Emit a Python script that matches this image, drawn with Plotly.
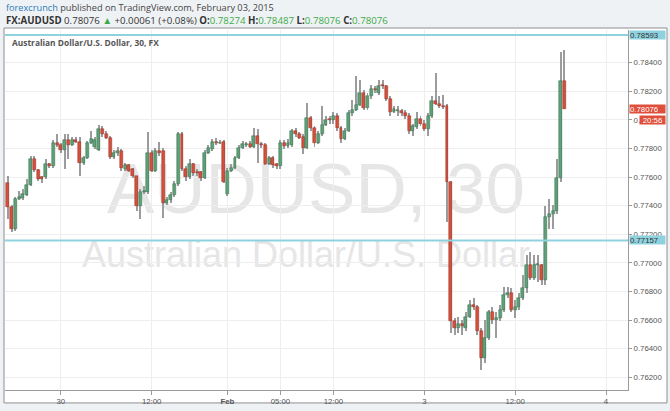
import numpy as np
import plotly.graph_objects as go

# ---------------- data (30-minute bars, AUD/USD) ----------------
bar_index = list(range(148))

open_ = [0.77557, 0.77388, 0.77238, 0.77446, 0.77451, 0.77474, 0.77543, 0.77729, 0.77648, 0.77597,
         0.77597, 0.77689, 0.77677, 0.77840, 0.77821, 0.77789, 0.77858, 0.77823, 0.77858, 0.77844,
         0.77701, 0.77736, 0.77835, 0.77807, 0.77789, 0.77933, 0.77898, 0.77875, 0.77743, 0.77766,
         0.77782, 0.77655, 0.77682, 0.77655, 0.77604, 0.77395, 0.77497, 0.77497, 0.77766, 0.77643,
         0.77782, 0.77782, 0.77418, 0.77441, 0.77474, 0.77550, 0.77898, 0.77659, 0.77597, 0.77689,
         0.77632, 0.77632, 0.77592, 0.77771, 0.77794, 0.77844, 0.77835, 0.77844, 0.77481, 0.77643,
         0.77666, 0.77736, 0.77800, 0.77821, 0.77828, 0.77812, 0.77886, 0.77828, 0.77821, 0.77694,
         0.77736, 0.77689, 0.77675, 0.77840, 0.77816, 0.77823, 0.77921, 0.77898, 0.77882, 0.77805,
         0.78014, 0.77944, 0.77840, 0.77898, 0.77967, 0.78007, 0.77997, 0.78025, 0.77944, 0.77868,
         0.77921, 0.78044, 0.78067, 0.78106, 0.78188, 0.78083, 0.78169, 0.78215, 0.78188, 0.78243,
         0.78238, 0.78146, 0.78053, 0.78058, 0.78060, 0.78044, 0.78030, 0.77921, 0.77951, 0.78007,
         0.77974, 0.77933, 0.78025, 0.78129, 0.78113, 0.78099, 0.78099, 0.77566, 0.76593, 0.76547,
         0.76570, 0.76547, 0.76624, 0.76709, 0.76693, 0.76524, 0.76334, 0.76473, 0.76654, 0.76600,
         0.76612, 0.76670, 0.76774, 0.76793, 0.76670, 0.76693, 0.76756, 0.76821, 0.76982, 0.76895,
         0.76987, 0.76987, 0.76878, 0.77319, 0.77342, 0.77365, 0.77590, 0.78274]

high = [0.77608, 0.77404, 0.77460, 0.77504, 0.77516, 0.77585, 0.77747, 0.77747, 0.77659, 0.77608,
        0.77724, 0.77701, 0.77856, 0.77898, 0.77835, 0.77898, 0.77898, 0.77877, 0.77882, 0.77877,
        0.77747, 0.77851, 0.77921, 0.77877, 0.77967, 0.77955, 0.77921, 0.77886, 0.77789, 0.77807,
        0.77794, 0.77701, 0.77694, 0.77666, 0.77608, 0.77516, 0.77538, 0.77917, 0.77789, 0.77805,
        0.77847, 0.77805, 0.77458, 0.77497, 0.77571, 0.77917, 0.77917, 0.77677, 0.77724, 0.77701,
        0.77655, 0.77643, 0.77789, 0.77821, 0.77863, 0.77875, 0.77858, 0.77858, 0.77666, 0.77689,
        0.77747, 0.77823, 0.77851, 0.77844, 0.77851, 0.77944, 0.77933, 0.77844, 0.77835, 0.77747,
        0.77747, 0.77701, 0.77856, 0.77858, 0.77863, 0.77933, 0.77944, 0.77917, 0.77898, 0.78118,
        0.78025, 0.77955, 0.77921, 0.78094, 0.78030, 0.78025, 0.78053, 0.78044, 0.77955, 0.77944,
        0.78067, 0.78141, 0.78303, 0.78275, 0.78206, 0.78188, 0.78243, 0.78238, 0.78280, 0.78275,
        0.78243, 0.78164, 0.78099, 0.78094, 0.78078, 0.78067, 0.78044, 0.77974, 0.78053, 0.78025,
        0.77997, 0.78044, 0.78164, 0.78327, 0.78164, 0.78176, 0.78113, 0.77571, 0.76612, 0.76624,
        0.76600, 0.76654, 0.76739, 0.76756, 0.76709, 0.76547, 0.76600, 0.76670, 0.76693, 0.76654,
        0.76709, 0.76832, 0.76832, 0.76821, 0.76739, 0.76793, 0.76913, 0.77052, 0.77076, 0.77052,
        0.77052, 0.76994, 0.77399, 0.77446, 0.77404, 0.77724, 0.78477, 0.78487]

low = [0.77307, 0.77217, 0.77224, 0.77439, 0.77441, 0.77467, 0.77538, 0.77632, 0.77571, 0.77557,
       0.77585, 0.77666, 0.77666, 0.77807, 0.77771, 0.77655, 0.77724, 0.77816, 0.77835, 0.77608,
       0.77682, 0.77729, 0.77828, 0.77794, 0.77782, 0.77882, 0.77863, 0.77724, 0.77729, 0.77747,
       0.77643, 0.77643, 0.77632, 0.77590, 0.77365, 0.77307, 0.77481, 0.77481, 0.77632, 0.77632,
       0.77747, 0.77312, 0.77404, 0.77418, 0.77458, 0.77538, 0.77643, 0.77571, 0.77585, 0.77608,
       0.77608, 0.77571, 0.77585, 0.77759, 0.77782, 0.77823, 0.77828, 0.77557, 0.77467, 0.77632,
       0.77655, 0.77729, 0.77794, 0.77812, 0.77800, 0.77805, 0.77701, 0.77805, 0.77682, 0.77682,
       0.77666, 0.77655, 0.77659, 0.77794, 0.77805, 0.77812, 0.77882, 0.77863, 0.77759, 0.77794,
       0.77921, 0.77812, 0.77828, 0.77886, 0.77955, 0.77974, 0.77974, 0.77921, 0.77840, 0.77856,
       0.77917, 0.78030, 0.78058, 0.78094, 0.78067, 0.78067, 0.78146, 0.78188, 0.78176, 0.78215,
       0.78129, 0.78025, 0.78044, 0.78030, 0.78025, 0.78007, 0.77898, 0.77886, 0.77937, 0.77955,
       0.77921, 0.77886, 0.78014, 0.78106, 0.78083, 0.78078, 0.77284, 0.76508, 0.76496, 0.76508,
       0.76496, 0.76524, 0.76612, 0.76670, 0.76496, 0.76253, 0.76299, 0.76459, 0.76570, 0.76473,
       0.76593, 0.76654, 0.76756, 0.76654, 0.76612, 0.76670, 0.76739, 0.76793, 0.76878, 0.76878,
       0.76867, 0.76843, 0.76843, 0.77238, 0.77238, 0.77342, 0.77566, 0.78076]

close = [0.77388, 0.77238, 0.77446, 0.77458, 0.77481, 0.77543, 0.77729, 0.77648, 0.77585, 0.77585,
         0.77689, 0.77677, 0.77835, 0.77821, 0.77789, 0.77858, 0.77823, 0.77858, 0.77844, 0.77701,
         0.77736, 0.77835, 0.77863, 0.77856, 0.77933, 0.77898, 0.77875, 0.77743, 0.77766, 0.77782,
         0.77666, 0.77682, 0.77643, 0.77604, 0.77395, 0.77497, 0.77504, 0.77766, 0.77643, 0.77782,
         0.77766, 0.77418, 0.77441, 0.77474, 0.77550, 0.77898, 0.77659, 0.77597, 0.77689, 0.77627,
         0.77627, 0.77592, 0.77771, 0.77805, 0.77844, 0.77835, 0.77840, 0.77562, 0.77643, 0.77666,
         0.77736, 0.77805, 0.77828, 0.77828, 0.77812, 0.77886, 0.77828, 0.77821, 0.77694, 0.77736,
         0.77682, 0.77675, 0.77840, 0.77816, 0.77840, 0.77921, 0.77898, 0.77875, 0.77805, 0.78014,
         0.77944, 0.77840, 0.77898, 0.77967, 0.78002, 0.77997, 0.78025, 0.77944, 0.77868, 0.77921,
         0.78044, 0.78067, 0.78106, 0.78188, 0.78083, 0.78169, 0.78215, 0.78206, 0.78238, 0.78233,
         0.78146, 0.78053, 0.78076, 0.78067, 0.78044, 0.78025, 0.77921, 0.77955, 0.78007, 0.77974,
         0.77933, 0.78025, 0.78129, 0.78113, 0.78094, 0.78090, 0.77566, 0.76593, 0.76547, 0.76570,
         0.76559, 0.76624, 0.76709, 0.76693, 0.76524, 0.76334, 0.76473, 0.76654, 0.76600, 0.76612,
         0.76670, 0.76774, 0.76793, 0.76670, 0.76693, 0.76756, 0.76821, 0.76982, 0.76895, 0.76987,
         0.76994, 0.76878, 0.77319, 0.77342, 0.77365, 0.77590, 0.78274, 0.78076]

# x-axis labels (bar index of each label) and price-axis ticks
time_tick_index = [14, 38, 58, 72, 86, 110, 134, 158]
time_tick_text = ["30", "12:00", "<b>Feb</b>", "05:00", "12:00", "3", "12:00", "4"]
price_ticks = [0.762, 0.764, 0.766, 0.768, 0.770, 0.772, 0.774, 0.776, 0.778, 0.780, 0.782, 0.784]
price_tick_text = ["0.76200", "0.76400", "0.76600", "0.76800", "0.77000", "0.77200",
                   "0.77400", "0.77600", "0.77800", "0.78000", "0.78200", "0.78400"]

level_lines = [0.78593, 0.77157]
last_price = 0.78076
countdown = "20:56"

# ---------------- figure ----------------
W, H = 670, 411
ML, MR, MT, MB = 5, 42, 30, 19
PW, PH = W - ML - MR, H - MT - MB


def px_x(px):
    return (px - ML) / PW


def px_y(py):
    return (H - MB - py) / PH


o = np.array(open_)
c = np.array(close)
hi = np.array(high)
lo = np.array(low)
up = c >= o

UP_FILL, DN_FILL = "#5fa078", "#d5503c"
UP_EDGE, DN_EDGE = "#336f49", "#922f21"
WICK = "#9c9c9e"

fig = go.Figure()
# wicks
fig.add_trace(go.Bar(x=bar_index, y=hi - lo, base=lo, width=0.26,
                     marker=dict(color=WICK, line=dict(width=0)),
                     hoverinfo="skip", showlegend=False))
# bodies
fig.add_trace(go.Bar(x=bar_index, y=np.abs(c - o), base=np.minimum(o, c), width=0.78,
                     marker=dict(color=np.where(up, UP_FILL, DN_FILL).tolist(),
                                 line=dict(color=np.where(up, UP_EDGE, DN_EDGE).tolist(), width=0.5)),
                     hoverinfo="skip", showlegend=False))

shapes = [
    # chart frame
    dict(type="rect", xref="paper", yref="paper", x0=px_x(4), x1=px_x(667), y0=px_y(405), y1=px_y(28),
         fillcolor="white", line=dict(color="#8e8e8e", width=1), layer="below"),
    # watermark
    dict(type="line", xref="paper", yref="paper", x0=px_x(60), x1=px_x(572), y0=px_y(182), y1=px_y(182),
         line=dict(width=0), layer="below",
         label=dict(text="AUDUSD, 30", textposition="middle", yanchor="middle",
                    font=dict(family="Liberation Sans", size=71, color="#e6e6e6"))),
    dict(type="line", xref="paper", yref="paper", x0=px_x(40), x1=px_x(572), y0=px_y(253), y1=px_y(253),
         line=dict(width=0), layer="below",
         label=dict(text="Australian Dollar/U.S. Dollar", textposition="middle", yanchor="middle",
                    font=dict(family="Liberation Sans", size=36, color="#e6e6e6"))),
]
for lv in level_lines:
    shapes.append(dict(type="line", xref="paper", yref="y", x0=0, x1=1, y0=lv, y1=lv,
                       line=dict(color="#8fd2df", width=2), layer="above"))

GREEN = "#3daa47"
header1 = ('<span style="color:#2b7bb9">forexcrunch</span>'
           '<span style="color:#444"> published on TradingView.com, February 03, 2015</span>')
header2 = ('<b>FX:AUDUSD</b> 0.78076 <span style="color:%s">▲</span> +0.00061 (+0.08%%) '
           '<b>O:</b><span style="color:%s">0.78274</span> <b>H:</b><span style="color:%s">0.78487</span> '
           '<b>L:</b><span style="color:%s">0.78076</span> <b>C:</b><span style="color:%s">0.78076</span>'
           % (GREEN, GREEN, GREEN, GREEN, GREEN))

annotations = [
    dict(text=header1, xref="paper", yref="paper", x=px_x(4), y=px_y(7), xanchor="left", yanchor="middle",
         showarrow=False, font=dict(family="Open Sans", size=9.2, color="#444")),
    dict(text=header2, xref="paper", yref="paper", x=px_x(4), y=px_y(20), xanchor="left", yanchor="middle",
         showarrow=False, font=dict(family="Open Sans", size=9.7, color="#333")),
    dict(text="<b>Australian Dollar/U.S. Dollar, 30, FX</b>", xref="paper", yref="paper",
         x=px_x(10), y=px_y(43), xanchor="left", yanchor="middle", showarrow=False,
         font=dict(family="Open Sans", size=8.4, color="#555")),
]
for lv in level_lines:
    annotations.append(dict(text="%.5f" % lv, xref="paper", yref="y", x=1, y=lv, xanchor="left",
                            yanchor="middle", showarrow=False, xshift=1, bgcolor="#8fd2df",
                            width=35, height=8, align="left", borderpad=0,
                            font=dict(family="Liberation Sans", size=7.8, color="#333")))
annotations.append(dict(text="%.5f" % last_price, xref="paper", yref="y", x=1, y=last_price, xanchor="left",
                        yanchor="middle", showarrow=False, xshift=1, bgcolor="#df4f3b",
                        width=35, height=8, align="left", borderpad=0,
                        font=dict(family="Liberation Sans", size=7.8, color="white")))
annotations.append(dict(text=countdown, xref="paper", yref="y", x=px_x(639), y=last_price, xanchor="left",
                        yanchor="middle", yshift=-11, showarrow=False, bgcolor="#df4f3b",
                        width=25, height=8, align="center", borderpad=0,
                        font=dict(family="Liberation Sans", size=7.8, color="white")))

fig.update_layout(
    width=W, height=H,
    margin=dict(l=ML, r=MR, t=MT, b=MB, pad=0),
    paper_bgcolor="#eff2f5", plot_bgcolor="white",
    barmode="overlay", bargap=0,
    showlegend=False,
    shapes=shapes, annotations=annotations,
    xaxis=dict(range=[-0.74, 163.8], tickmode="array", tickvals=time_tick_index, ticktext=time_tick_text,
               showgrid=True, gridcolor="#eeeeee", gridwidth=1, zeroline=False,
               showline=True, linecolor="#9a9a9a", linewidth=1,
               ticks="outside", ticklen=4, tickcolor="#9a9a9a",
               tickfont=dict(family="Liberation Sans", size=7.8, color="#555"), fixedrange=True),
    yaxis=dict(side="right", range=[0.761116, 0.786275], tickmode="array", tickvals=price_ticks,
               ticktext=price_tick_text, showgrid=True, gridcolor="#eeeeee", gridwidth=1, zeroline=False,
               showline=True, linecolor="#9a9a9a", linewidth=1,
               ticks="outside", ticklen=3, tickcolor="#9a9a9a",
               tickfont=dict(family="Liberation Sans", size=7.8, color="#555"), fixedrange=True),
)

fig.write_html("out.html", config={"displayModeBar": False},
               post_script="document.body.style.margin='0';document.body.style.padding='0';"
                           "document.documentElement.style.overflow='hidden';")
